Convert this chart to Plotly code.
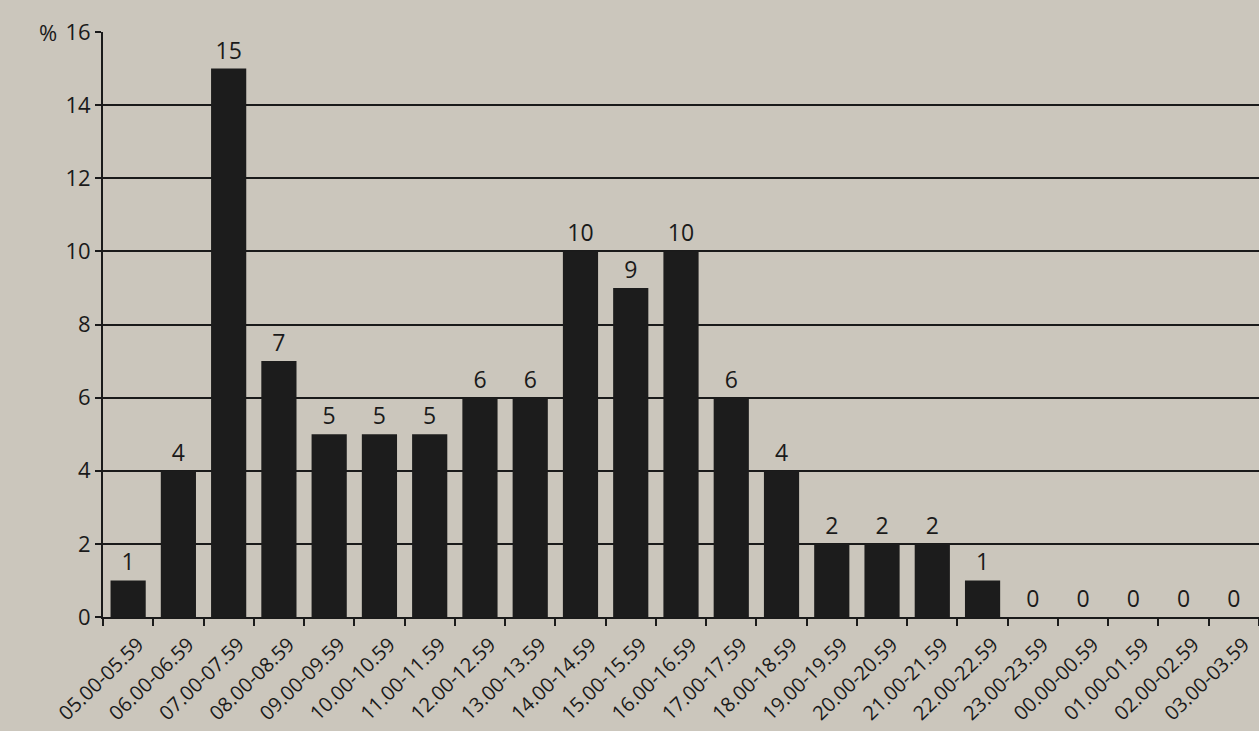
import plotly.graph_objects as go

categories = ["05.00-05.59", "06.00-06.59", "07.00-07.59", "08.00-08.59", "09.00-09.59",
              "10.00-10.59", "11.00-11.59", "12.00-12.59", "13.00-13.59", "14.00-14.59",
              "15.00-15.59", "16.00-16.59", "17.00-17.59", "18.00-18.59", "19.00-19.59",
              "20.00-20.59", "21.00-21.59", "22.00-22.59", "23.00-23.59", "00.00-00.59",
              "01.00-01.59", "02.00-02.59", "03.00-03.59"]
values = [1, 4, 15, 7, 5, 5, 5, 6, 6, 10, 9, 10, 6, 4, 2, 2, 2, 1, 0, 0, 0, 0, 0]
y_ticks = [0, 2, 4, 6, 8, 10, 12, 14, 16]

font_family = "Open Sans, Noto Sans, sans-serif"
bg = "#cbc6bc"

fig = go.Figure(go.Bar(
    x=categories, y=values,
    marker=dict(color="#1c1c1c", line=dict(width=0)),
    text=[str(v) for v in values], textposition="outside",
    textfont=dict(size=23, color="#1a1a1a", family=font_family),
    cliponaxis=False,
))

fig.update_layout(
    width=1259, height=731,
    margin=dict(l=103, r=0, t=32, b=114),
    paper_bgcolor=bg, plot_bgcolor=bg,
    bargap=0.3, showlegend=False,
    font=dict(family=font_family, color="#1a1a1a"),
    xaxis=dict(
        range=[-0.5, 22.5], tickangle=-44, tickfont=dict(size=20),
        ticks="outside", tickson="boundaries", ticklen=7, tickcolor="#1a1a1a", tickwidth=2,
        ticklabelshift=10, ticklabelstandoff=6,
        showline=True, linecolor="#1a1a1a", linewidth=2, showgrid=False,
    ),
    yaxis=dict(
        range=[0, 16], tickvals=y_ticks, tickfont=dict(size=22),
        ticks="outside", ticklen=6, tickcolor="#1a1a1a", tickwidth=2,
        showline=True, linecolor="#1a1a1a", linewidth=2,
        showgrid=True, gridcolor="#1a1a1a", gridwidth=1.8, zeroline=False,
    ),
    annotations=[dict(text="%", x=0, xref="paper", xanchor="right", xshift=-44,
                      y=16, yref="y", showarrow=False, font=dict(size=22))],
)

fig.write_html("out.html")
